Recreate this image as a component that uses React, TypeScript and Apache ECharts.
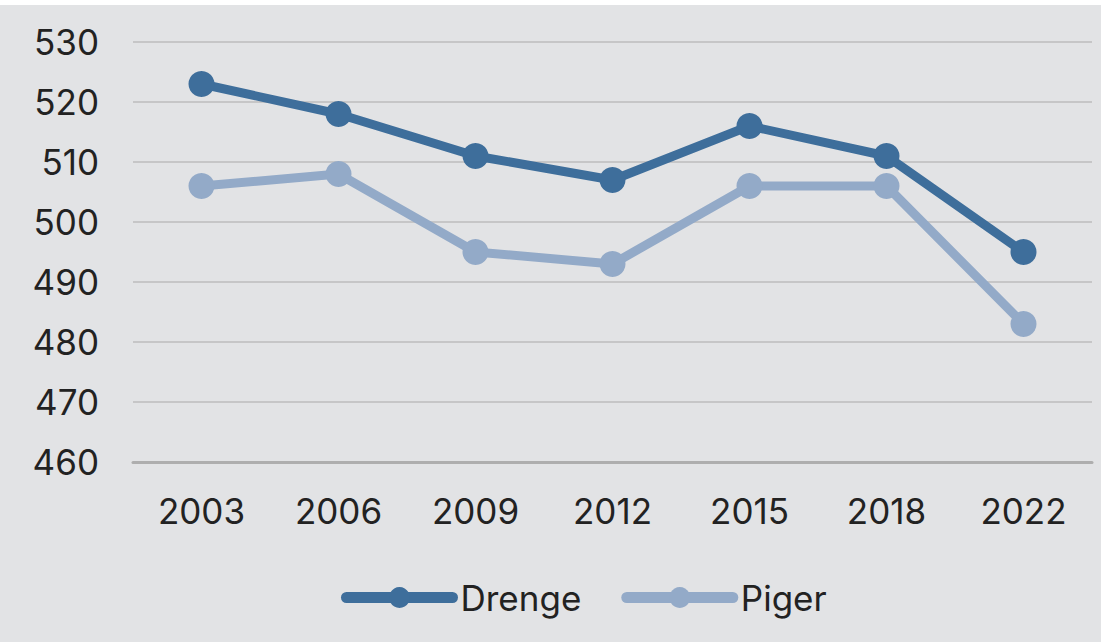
import React, { useEffect, useRef } from "react";
import * as echarts from "echarts";

const years = ["2003", "2006", "2009", "2012", "2015", "2018", "2022"];
const drenge = [523, 518, 511, 507, 516, 511, 495];
const piger = [506, 508, 495, 493, 506, 506, 483];
const seriesNames = ["Drenge", "Piger"];

export default function App() {
  const ref = useRef<HTMLDivElement>(null);
  useEffect(() => {
    const chart = echarts.init(ref.current!, null, { renderer: "svg" });
    const font = "Inter, Roboto, sans-serif";
    chart.setOption({
      animation: false,
      backgroundColor: "#e2e3e5",
      textStyle: { fontFamily: font },
      grid: { left: 133, right: 9, top: 37, bottom: 180 },
      legend: {
        bottom: 22,
        left: 336,
        itemWidth: 106,
        itemHeight: 26,
        itemGap: 40,
        lineStyle: { width: 11, cap: "round" },
        textStyle: { fontSize: 35, color: "#222", fontFamily: font, padding: [0, 0, 0, 3] },
        data: seriesNames,
      },
      xAxis: {
        type: "category",
        data: years,
        boundaryGap: true,
        axisLine: { show: true, lineStyle: { color: "#aeaeae", width: 3 } },
        axisTick: { show: false },
        axisLabel: { fontSize: 35, color: "#222", margin: 31, fontFamily: font },
      },
      yAxis: {
        type: "value",
        min: 460,
        max: 530,
        interval: 10,
        axisLine: { show: false },
        axisTick: { show: false },
        axisLabel: { fontSize: 35, color: "#222", margin: 34, fontFamily: font },
        splitLine: { lineStyle: { color: "#bdbdbd", width: 1.5 } },
      },
      series: [
        {
          name: seriesNames[0],
          type: "line",
          data: drenge,
          symbol: "circle",
          symbolSize: 26,
          lineStyle: { width: 9, color: "#3e6e9b" },
          itemStyle: { color: "#3e6e9b" },
        },
        {
          name: seriesNames[1],
          type: "line",
          data: piger,
          symbol: "circle",
          symbolSize: 26,
          lineStyle: { width: 9, color: "#93aac8" },
          itemStyle: { color: "#93aac8" },
        },
      ],
    });
    return () => chart.dispose();
  }, []);
  return (
    <div style={{ position: "fixed", left: 0, top: 0, width: 1101, height: 642, background: "#ffffff" }}>
      <div ref={ref} style={{ position: "absolute", left: 0, top: 5, width: 1101, height: 637 }} />
    </div>
  );
}
